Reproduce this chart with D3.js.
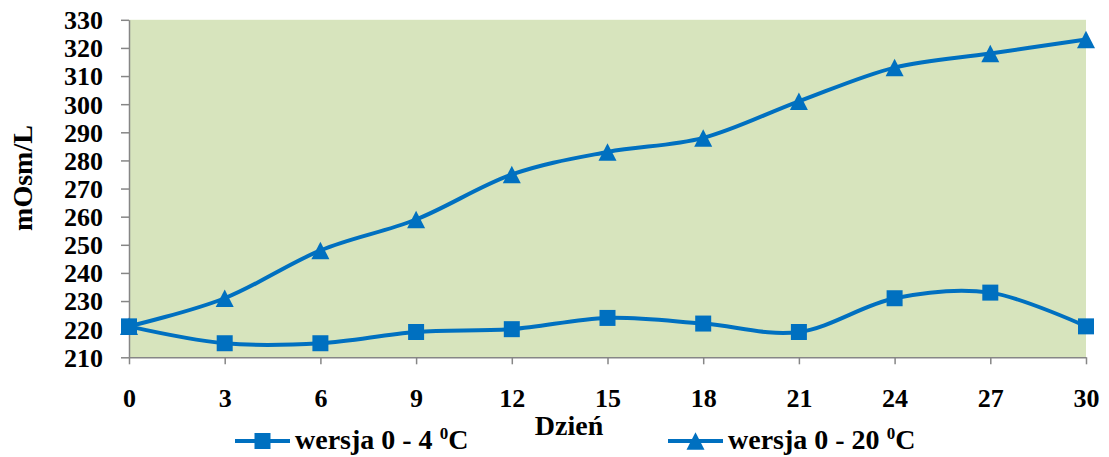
<!DOCTYPE html>
<html>
<head>
<meta charset="utf-8">
<script src="https://cdn.jsdelivr.net/npm/d3@7"></script>
<style>
  html, body { margin: 0; padding: 0; background: #ffffff; }
  svg { display: block; }
  text { font-family: "Liberation Serif", "Times New Roman", serif; font-weight: bold; fill: #000; }
</style>
</head>
<body>
<svg id="chart" width="1109" height="457"></svg>
<script>
// Storage day (x) and osmolality readings (mOsm/L) for the two versions
const days = [0, 3, 6, 9, 12, 15, 18, 21, 24, 27, 30];
const cold4 = [221, 215, 215, 219, 220, 224, 222, 219, 231, 233, 221];
const warm20 = [221, 231, 248, 259, 275, 283, 288, 301, 313, 318, 323];
const yTicks = [210, 220, 230, 240, 250, 260, 270, 280, 290, 300, 310, 320, 330];
const seriesNames = ["wersja 0 - 4 ", "wersja 0 - 20 "];

const blue = "#0070C0";
const axisGray = "#868686";

const svg = d3.select("#chart");

const x = d3.scaleLinear().domain([0, 30]).range([129, 1086]);
const y = d3.scaleLinear().domain([210, 330]).range([357.3, 19.8]);

// plot area background
svg.append("rect")
  .attr("x", x(0)).attr("y", y(330))
  .attr("width", x(30) - x(0)).attr("height", y(210) - y(330))
  .attr("fill", "#D7E4BD");

// left axis
const yAxis = svg.append("g")
  .attr("transform", `translate(${x(0)},0)`)
  .call(d3.axisLeft(y).tickValues(yTicks).tickSize(8).tickSizeOuter(0).tickPadding(18));
yAxis.selectAll("text").style("font-size", "26px").attr("dy", "0.34em");

// bottom axis
const xAxis = svg.append("g")
  .attr("transform", `translate(0,${y(210)})`)
  .call(d3.axisBottom(x).tickValues(days).tickSize(7).tickSizeOuter(0).tickFormat(d3.format("d")));
xAxis.selectAll("text").style("font-size", "26px").attr("y", 50).attr("dy", 0);

svg.selectAll(".domain, .tick line").attr("stroke", axisGray).attr("stroke-width", 1.5);
svg.selectAll(".tick text").attr("fill", "#000");

// axis titles
svg.append("text")
  .attr("transform", `translate(32,178) rotate(-90)`)
  .attr("text-anchor", "middle")
  .style("font-size", "28px")
  .text("mOsm/L");

svg.append("text")
  .attr("x", 569).attr("y", 435)
  .attr("text-anchor", "middle")
  .style("font-size", "28px")
  .text("Dzień");

// smoothed lines
const line = d3.line()
  .x((d, i) => x(days[i]))
  .y(d => y(d))
  .curve(d3.curveCardinal.tension(0));

const squareSym = d3.symbol().type(d3.symbolSquare).size(16 * 16);
const triH = 17.5;
function triPath(cx, cy) {
  const w = 18;
  return `M${cx},${cy - triH / 2}L${cx + w / 2},${cy + triH / 2}L${cx - w / 2},${cy + triH / 2}Z`;
}

[[warm20, "tri"], [cold4, "sq"]].forEach(([vals, kind]) => {
  svg.append("path")
    .attr("d", line(vals))
    .attr("fill", "none")
    .attr("stroke", blue)
    .attr("stroke-width", 4);
  const g = svg.append("g");
  vals.forEach((v, i) => {
    if (kind === "sq") {
      g.append("path").attr("d", squareSym())
        .attr("transform", `translate(${x(days[i])},${y(v)})`)
        .attr("fill", blue);
    } else {
      g.append("path").attr("d", triPath(x(days[i]), y(v))).attr("fill", blue);
    }
  });
});

// legend
const legendItems = [
  { name: seriesNames[0], kind: "sq", x0: 235 },
  { name: seriesNames[1], kind: "tri", x0: 668 }
];
const ly = 441;
legendItems.forEach(it => {
  svg.append("line")
    .attr("x1", it.x0).attr("x2", it.x0 + 55)
    .attr("y1", ly).attr("y2", ly)
    .attr("stroke", blue).attr("stroke-width", 4);
  const cx = it.x0 + 27.5;
  if (it.kind === "sq") {
    svg.append("path").attr("d", squareSym()).attr("transform", `translate(${cx},${ly})`).attr("fill", blue);
  } else {
    svg.append("path").attr("d", triPath(cx, ly)).attr("fill", blue);
  }
  const t = svg.append("text")
    .attr("x", it.x0 + 60).attr("y", 449)
    .style("font-size", "28px");
  t.append("tspan").text(it.name);
  t.append("tspan").attr("dy", -10).style("font-size", "17px").text("0");
  t.append("tspan").attr("dy", 10).text("C");
});
</script>
</body>
</html>
